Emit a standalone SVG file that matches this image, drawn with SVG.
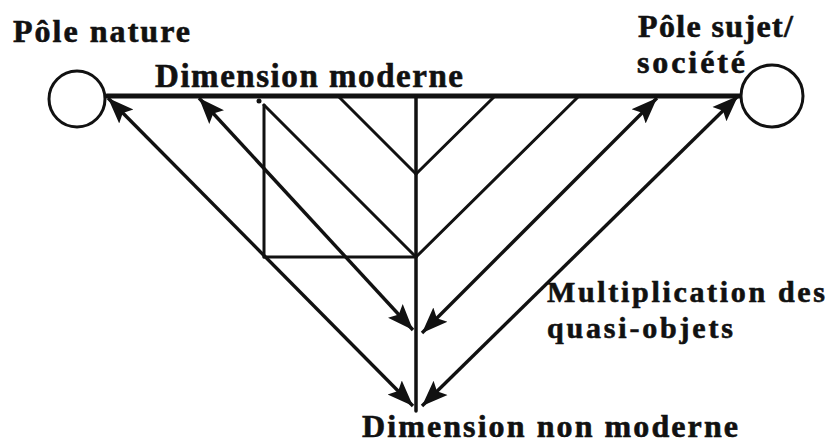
<svg xmlns="http://www.w3.org/2000/svg" width="830" height="445" viewBox="0 0 830 445">
<style>
.t{font-family:"Liberation Serif","Times New Roman",serif;font-weight:bold;font-size:32px;fill:#111;stroke:#111;stroke-width:0.6}
.ln{stroke:#111;stroke-width:3;fill:none;stroke-linecap:round}
.ar{stroke:#111;stroke-width:3.4;fill:none;marker-start:url(#ah);marker-end:url(#ah)}
.pole{fill:#fff;stroke:#111;stroke-width:3}
</style>
<defs>
<marker id="ah" markerUnits="userSpaceOnUse" markerWidth="28" markerHeight="24" viewBox="0 0 28 24" refX="26" refY="12" orient="auto-start-reverse">
<path d="M0,2 L26,12 L0,22 L5,12 Z" fill="#111"/>
</marker>
</defs>
<rect width="830" height="445" fill="#fff"/>
<g id="connectors">
<line class="ln" x1="107" y1="96" x2="742" y2="96" style="stroke-width:5"/>
<line class="ln" x1="416" y1="96" x2="416" y2="411" style="stroke-width:3.5"/>
<line class="ln" x1="338" y1="96" x2="416" y2="174"/>
<line class="ln" x1="495" y1="96" x2="416" y2="174"/>
<line class="ln" x1="264" y1="105" x2="416" y2="257"/>
<line class="ln" x1="579" y1="96" x2="416" y2="257"/>
<line class="ln" x1="264" y1="105" x2="264" y2="257"/>
<line class="ln" x1="264" y1="257" x2="416" y2="257"/>
<circle cx="259" cy="101" r="2.5" fill="#111"/>
<line class="ar" x1="108" y1="98" x2="413" y2="406"/>
<line class="ar" x1="199" y1="98" x2="413" y2="330"/>
<line class="ar" x1="657" y1="98" x2="422" y2="333"/>
<line class="ar" x1="738" y1="96" x2="422" y2="406"/>
</g>
<g id="pole-nature">
<circle class="pole" cx="77" cy="99" r="28"/>
<text class="t" x="13" y="42" textLength="177" lengthAdjust="spacing">Pôle nature</text>
</g>
<g id="pole-sujet">
<circle class="pole" cx="772" cy="96" r="31"/>
<text class="t" x="638" y="37" textLength="155" lengthAdjust="spacing">Pôle sujet/</text>
<text class="t" x="637" y="73" textLength="108" lengthAdjust="spacing">société</text>
</g>
<g id="dimension-moderne">
<text class="t" x="155" y="87" textLength="308" lengthAdjust="spacing" style="font-size:33px">Dimension moderne</text>
</g>
<g id="quasi-objets">
<text class="t" x="547" y="302" textLength="278" lengthAdjust="spacing" style="font-size:30px">Multiplication des</text>
<text class="t" x="547" y="338" textLength="186" lengthAdjust="spacing" style="font-size:30px">quasi-objets</text>
</g>
<g id="dimension-non-moderne">
<text class="t" x="362" y="437" textLength="376" lengthAdjust="spacing">Dimension non moderne</text>
</g>
</svg>
